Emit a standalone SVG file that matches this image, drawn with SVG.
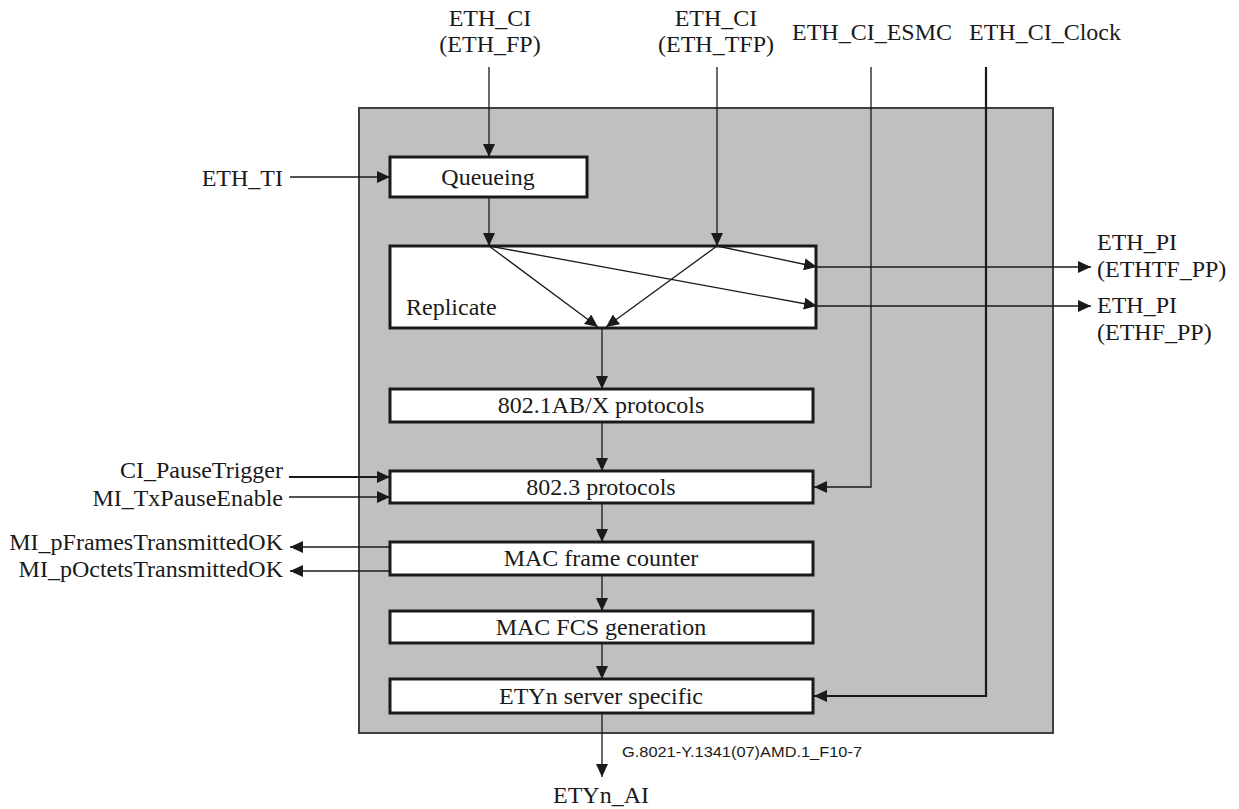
<svg xmlns="http://www.w3.org/2000/svg" width="1239" height="809" viewBox="0 0 1239 809">
<style>
text{font-family:"Liberation Serif","Times New Roman",serif;font-size:24px;fill:#1a1a1a}
.c{text-anchor:middle}
.r{text-anchor:end}
.box{fill:#fff;stroke:#1a1a1a;stroke-width:3}
.ln{fill:none;stroke:#1a1a1a;stroke-width:1.3}
.thk{stroke-width:2.2}
.note{font-family:"Liberation Sans",Arial,sans-serif;font-size:15px}
</style>
<defs>
<marker id="ah" markerUnits="userSpaceOnUse" markerWidth="14" markerHeight="12" refX="13" refY="6" orient="auto">
<path d="M0,0 L13,6 L0,12 Z" fill="#1a1a1a"/>
</marker>
</defs>
<rect id="frame" x="359" y="108" width="694" height="625" fill="#c0c0c0" stroke="#404040" stroke-width="2"/>
<g id="queueing"><rect class="box" x="390" y="157" width="197" height="40"/><text class="c" x="488" y="185">Queueing</text></g>
<g id="replicate"><rect class="box" x="390" y="246" width="426" height="82"/><text x="406" y="315">Replicate</text></g>
<g id="p8021ab"><rect class="box" x="390" y="389" width="423" height="33"/><text class="c" x="601" y="413">802.1AB/X protocols</text></g>
<g id="p8023"><rect class="box" x="390" y="471" width="423" height="32"/><text class="c" x="601" y="495">802.3 protocols</text></g>
<g id="counter"><rect class="box" x="390" y="542" width="423" height="33"/><text class="c" x="601" y="566">MAC frame counter</text></g>
<g id="fcs"><rect class="box" x="390" y="611" width="423" height="32"/><text class="c" x="601" y="635">MAC FCS generation</text></g>
<g id="etyn"><rect class="box" x="390" y="679" width="423" height="34"/><text class="c" x="601" y="704">ETYn server specific</text></g>
<g id="connectors">
<path class="ln" d="M489,67 V157" marker-end="url(#ah)"/>
<path class="ln" d="M717,67 V246" marker-end="url(#ah)"/>
<path class="ln" d="M871,67 V487 H814" marker-end="url(#ah)"/>
<path class="ln thk" d="M986,67 V696 H814" marker-end="url(#ah)"/>
<path class="ln" d="M290,177 H390" marker-end="url(#ah)"/>
<path class="ln" d="M489,197 V246" marker-end="url(#ah)"/>
<path class="ln" d="M489,246 L598,327" marker-end="url(#ah)"/>
<path class="ln" d="M717,246 L606,327" marker-end="url(#ah)"/>
<path class="ln" d="M489,246 L817,306" marker-end="url(#ah)"/>
<path class="ln" d="M717,246 L817,267" marker-end="url(#ah)"/>
<path class="ln" d="M816,267 H1091" marker-end="url(#ah)"/>
<path class="ln" d="M816,306 H1091" marker-end="url(#ah)"/>
<path class="ln" d="M602,328 V389" marker-end="url(#ah)"/>
<path class="ln" d="M602,422 V471" marker-end="url(#ah)"/>
<path class="ln" d="M602,503 V542" marker-end="url(#ah)"/>
<path class="ln" d="M602,575 V611" marker-end="url(#ah)"/>
<path class="ln" d="M602,643 V679" marker-end="url(#ah)"/>
<path class="ln" d="M602,713 V777" marker-end="url(#ah)"/>
<path class="ln thk" d="M289,477 H390" marker-end="url(#ah)"/>
<path class="ln" d="M289,497 H390" marker-end="url(#ah)"/>
<path class="ln" d="M390,547 H290" marker-end="url(#ah)"/>
<path class="ln" d="M390,571 H290" marker-end="url(#ah)"/>
</g>
<g id="labels">
<text class="c" x="490" y="26">ETH_CI</text>
<text class="c" x="490" y="52">(ETH_FP)</text>
<text class="c" x="716" y="26">ETH_CI</text>
<text class="c" x="716" y="52">(ETH_TFP)</text>
<text x="792" y="40">ETH_CI_ESMC</text>
<text x="969" y="40">ETH_CI_Clock</text>
<text class="r" x="283" y="186">ETH_TI</text>
<text x="1097" y="250">ETH_PI</text>
<text x="1097" y="277">(ETHTF_PP)</text>
<text x="1097" y="313">ETH_PI</text>
<text x="1097" y="340">(ETHF_PP)</text>
<text class="r" x="283" y="478">CI_PauseTrigger</text>
<text class="r" x="283" y="506">MI_TxPauseEnable</text>
<text class="r" x="283" y="550">MI_pFramesTransmittedOK</text>
<text class="r" x="283" y="577">MI_pOctetsTransmittedOK</text>
<text class="c" x="601" y="803">ETYn_AI</text>
<text class="note" x="622" y="757" textLength="240" lengthAdjust="spacingAndGlyphs">G.8021-Y.1341(07)AMD.1_F10-7</text>
</g>
</svg>
